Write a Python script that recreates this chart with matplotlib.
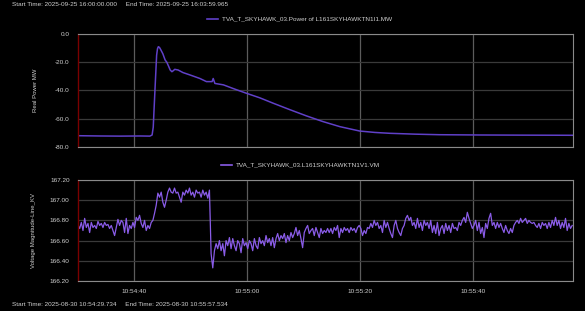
import numpy as np
import matplotlib
matplotlib.use("Agg")
import matplotlib.pyplot as plt
from matplotlib.ticker import FuncFormatter, FixedLocator
from matplotlib.lines import Line2D

plt.rcParams['font.family'] = ['Liberation Sans', 'DejaVu Sans']

# ---------------- data ----------------
# time in seconds after 10:54:00
power_t = [30.1, 34.0, 37.5, 41.1, 42.8, 43.2, 43.4, 43.7, 44.0, 44.15, 44.3, 44.5,
           44.7, 45.1, 45.5, 45.8, 46.1, 46.4, 46.7, 47.0, 47.2, 47.8, 48.65, 49.9,
           51.65, 52.8, 53.8, 54.0, 54.3, 55.8, 57.8, 59.9, 62.25, 64.6, 67.5,
           70.5, 73.4, 76.4, 79.9, 82.6, 85.2, 89.6, 94.0, 101.1, 108.2, 117.5]
power_mw = [-72.0, -72.2, -72.3, -72.2, -72.3, -71.5, -66.0, -40.0, -15.0, -10.5, -9.0, -9.5,
            -10.9, -14.0, -18.4, -20.0, -22.7, -25.5, -26.7, -25.8, -25.0, -25.5, -27.3, -29.0,
            -31.5, -33.7, -33.7, -31.5, -35.0, -36.0, -39.0, -42.0, -45.2, -49.0, -53.5,
            -58.0, -62.0, -65.6, -68.7, -69.7, -70.3, -70.9, -71.3, -71.5, -71.6, -71.7]

volt_start = 30.1          # s after 10:54:00
volt_step = 5.0 / 17.0     # sampling interval, s
volt_kv = [
    166.75, 166.72, 166.78, 166.70, 166.82, 166.73, 166.77, 166.68, 166.78, 166.73,
    166.75, 166.72, 166.79, 166.75, 166.77, 166.73, 166.78, 166.75, 166.76, 166.72,
    166.75, 166.70, 166.65, 166.73, 166.81, 166.75, 166.80, 166.78, 166.68, 166.82,
    166.67, 166.75, 166.72, 166.78, 166.73, 166.83, 166.80, 166.85, 166.77, 166.73,
    166.80, 166.70, 166.75, 166.72, 166.78, 166.80,
    166.87, 166.95, 167.07, 167.03, 167.08, 166.98, 166.93, 167.00, 167.08, 167.12,
    167.08, 167.07, 167.12, 167.07, 167.08, 167.03, 166.98, 167.08, 167.05, 167.10,
    167.07, 167.12, 167.05, 167.08, 167.03, 167.10, 167.07, 167.08, 167.03, 167.10,
    167.05, 167.08, 167.02, 167.10,
    166.47, 166.33, 166.50, 166.57, 166.52, 166.60, 166.50, 166.57, 166.45, 166.60,
    166.55, 166.63, 166.52, 166.62, 166.55, 166.50, 166.60, 166.57, 166.48, 166.62,
    166.55, 166.58, 166.52, 166.60, 166.57, 166.50, 166.62, 166.55, 166.52, 166.63,
    166.57, 166.60, 166.55, 166.65, 166.58, 166.62, 166.55, 166.63, 166.53, 166.62,
    166.67, 166.60, 166.65, 166.62, 166.67, 166.58, 166.65, 166.60, 166.68, 166.63,
    166.67, 166.73, 166.65, 166.70, 166.62, 166.53, 166.68, 166.72, 166.75, 166.67,
    166.70, 166.72, 166.65, 166.73, 166.68, 166.63, 166.72, 166.67, 166.70, 166.68,
    166.72,
    166.68, 166.72, 166.67, 166.73, 166.70, 166.75, 166.63, 166.72, 166.68, 166.73,
    166.70, 166.72, 166.68, 166.73, 166.70, 166.72, 166.68, 166.73, 166.75, 166.72,
    166.65, 166.70, 166.67, 166.73, 166.72, 166.77, 166.73, 166.80, 166.75, 166.78,
    166.72, 166.75, 166.68, 166.80, 166.73, 166.78, 166.72, 166.67, 166.63, 166.75,
    166.80, 166.72, 166.68, 166.65, 166.72, 166.75, 166.82, 166.85, 166.80, 166.83,
    166.75, 166.78, 166.72, 166.82, 166.73, 166.78, 166.70, 166.80, 166.75, 166.78,
    166.72, 166.80, 166.68, 166.75, 166.67, 166.78, 166.65, 166.72, 166.75, 166.67,
    166.77, 166.70, 166.75, 166.68, 166.77, 166.72, 166.73, 166.70, 166.78, 166.75,
    166.80, 166.83, 166.78, 166.88, 166.82, 166.77, 166.72, 166.75, 166.80, 166.70,
    166.78, 166.67, 166.73, 166.63, 166.77, 166.72, 166.82, 166.87, 166.75, 166.78,
    166.72, 166.78, 166.73, 166.77, 166.72, 166.68, 166.75, 166.70, 166.67, 166.72,
    166.68, 166.75, 166.78, 166.80, 166.77, 166.82, 166.78, 166.80, 166.82, 166.77,
    166.80, 166.78, 166.77, 166.78, 166.75, 166.73, 166.77, 166.72, 166.78, 166.75,
    166.77, 166.72, 166.78, 166.73, 166.80, 166.75, 166.83, 166.75, 166.80, 166.72,
    166.78, 166.73, 166.82, 166.70, 166.77, 166.72, 166.75,
]

power_yticks = [0.0, -20.0, -40.0, -60.0, -80.0]
volt_yticks = [167.20, 167.00, 166.80, 166.60, 166.40, 166.20]
x_ticks = [40, 60, 80, 100]   # 10:54:40 ... 10:55:40
x_lim = (30.1, 117.6)

power_label = "TVA_T_SKYHAWK_03.Power of L161SKYHAWKTN1I1.MW"
volt_label = "TVA_T_SKYHAWK_03.L161SKYHAWKTN1V1.VM"
top_text = "Start Time: 2025-09-25 16:00:00.000     End Time: 2025-09-25 16:03:59.965"
bot_text = "Start Time: 2025-08-30 10:54:29.734     End Time: 2025-08-30 10:55:57.534"

# ---------------- figure ----------------
W, H = 585, 311
fig = plt.figure(figsize=(W / 100, H / 100), dpi=100, facecolor='black')

txt_col = '#d0d0d0'
fs = 4.6
power_col = '#6040c8'
volt_col = '#8a5ce8'

def fmt_time(v, pos=None):
    total = int(round(v))
    m = 54 + total // 60
    s = total % 60
    return f"10:{m:02d}:{s:02d}"

def style(ax, yticks, yfmt):
    ax.set_facecolor('black')
    ax.set_xlim(*x_lim)
    ax.xaxis.set_major_locator(FixedLocator(x_ticks))
    ax.yaxis.set_major_locator(FixedLocator(yticks))
    ax.yaxis.set_major_formatter(FuncFormatter(lambda v, p: yfmt.format(v)))
    ax.xaxis.grid(True, color='#5c5c5c', linewidth=0.9)
    ax.yaxis.grid(True, color='#3a3a3a', linewidth=0.9)
    ax.set_axisbelow(True)
    for s in ['top', 'right', 'bottom']:
        ax.spines[s].set_color('#8a8a8a')
        ax.spines[s].set_linewidth(0.8)
    ax.spines['left'].set_color('#7a0000')
    ax.spines['left'].set_linewidth(1.0)
    ax.tick_params(length=0, colors=txt_col, labelsize=fs, pad=6)

def legend_at(x_px, y_px, label, color):
    # short line sample followed by text
    fig.add_artist(Line2D([x_px / W, (x_px + 11) / W], [1 - y_px / H, 1 - y_px / H],
                          color=color, linewidth=1.2, transform=fig.transFigure))
    fig.text((x_px + 15) / W, 1 - y_px / H, label, color=txt_col, fontsize=fs,
             va='center', ha='left')

ax1 = fig.add_axes([78 / W, 1 - 147 / H, 495 / W, 113 / H])
ax1.plot(power_t, power_mw, color=power_col, linewidth=1.1)
style(ax1, power_yticks, "{:.1f}")
ax1.set_ylim(-80, 0)
ax1.tick_params(labelbottom=False)
ax1.set_ylabel("Real Power MW", color=txt_col, fontsize=4.3, labelpad=12)

volt_t = volt_start + np.arange(len(volt_kv)) * volt_step
ax2 = fig.add_axes([78 / W, 1 - 281 / H, 495 / W, 101 / H])
ax2.plot(volt_t, volt_kv, color=volt_col, linewidth=0.9)
style(ax2, volt_yticks, "{:.2f}")
ax2.set_ylim(166.20, 167.20)
ax2.xaxis.set_major_formatter(FuncFormatter(fmt_time))
ax2.set_ylabel("Voltage Magnitude-Line_KV", color=txt_col, fontsize=4.3, labelpad=10)

legend_at(207, 19, power_label, power_col)
legend_at(221, 164.5, volt_label, volt_col)

fig.text(12 / W, 1 - 5 / H, top_text, color=txt_col, fontsize=fs, va='center', ha='left')
fig.text(12 / W, 1 - 304 / H, bot_text, color=txt_col, fontsize=fs, va='center', ha='left')

fig.savefig("out.png", dpi=100, facecolor='black')
